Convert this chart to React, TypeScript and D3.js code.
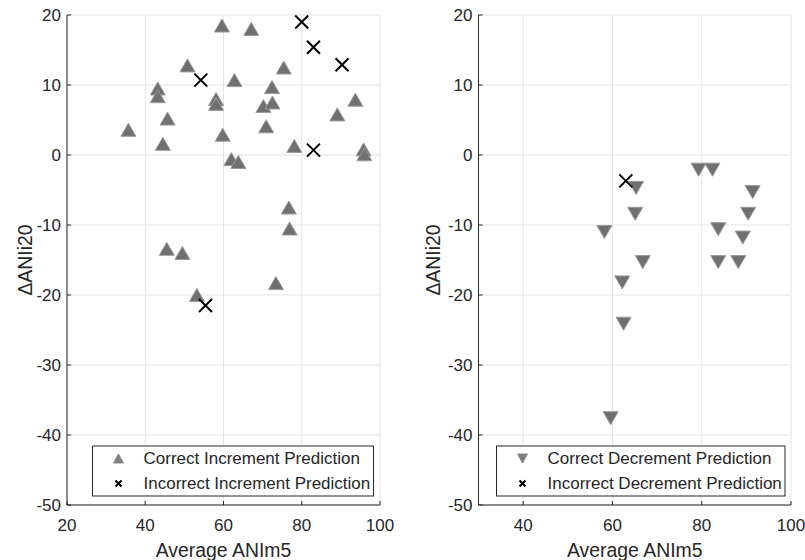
import React from "react";
import * as d3 from "d3";

// Left panel data
const incCorrectX = [35.7, 43.2, 43.2, 45.7, 44.5, 50.8, 58.1, 58.1, 59.6, 59.8, 62.8, 62.0, 63.8, 67.1, 70.2, 72.4, 72.5, 70.9, 75.4, 78.1, 89.1, 93.7, 95.8, 96.0, 76.7, 76.9, 45.5, 49.5, 53.2, 73.4];
const incCorrectY = [3.6, 9.5, 8.4, 5.2, 1.6, 12.8, 8.0, 7.3, 18.5, 2.9, 10.7, -0.6, -1.0, 18.0, 7.0, 9.7, 7.5, 4.1, 12.5, 1.3, 5.8, 7.9, 0.8, 0.1, -7.5, -10.5, -13.4, -14.0, -20.0, -18.3];
const incWrongX = [54.2, 80.0, 83.0, 90.3, 83.0, 55.4];
const incWrongY = [10.7, 19.0, 15.4, 12.9, 0.7, -21.5];

// Right panel data
const decCorrectX = [79.3, 82.4, 65.3, 65.1, 58.2, 66.8, 62.2, 62.5, 91.4, 90.4, 83.7, 89.2, 83.7, 88.2, 59.6];
const decCorrectY = [-2.1, -2.1, -4.7, -8.4, -11.0, -15.3, -18.2, -24.1, -5.3, -8.4, -10.6, -11.8, -15.3, -15.3, -37.6];
const decWrongX = [63.0];
const decWrongY = [-3.7];

const yTicks = [20, 10, 0, -10, -20, -30, -40, -50];
const xTicksLeft = [20, 40, 60, 80, 100];
const xTicksRight = [40, 60, 80, 100];

const FONT = "'Liberation Sans', Arial, Helvetica, sans-serif";
const TXT = "#262626";

function triUp(cx: number, cy: number, w: number, h: number) {
  return `M${cx},${cy - h / 2}L${cx + w / 2},${cy + h / 2}L${cx - w / 2},${cy + h / 2}Z`;
}
function triDown(cx: number, cy: number, w: number, h: number) {
  return `M${cx},${cy + h / 2}L${cx + w / 2},${cy - h / 2}L${cx - w / 2},${cy - h / 2}Z`;
}
function cross(cx: number, cy: number, r: number) {
  return `M${cx - r},${cy - r}L${cx + r},${cy + r}M${cx - r},${cy + r}L${cx + r},${cy - r}`;
}

type PanelProps = {
  left: number;
  right: number;
  xDomain: [number, number];
  xTicks: number[];
  cx: number[];
  cy: number[];
  wx: number[];
  wy: number[];
  up: boolean;
  legend: [string, string];
  legendBox: [number, number];
  ylabelX: number;
};

function Panel(p: PanelProps) {
  const top = 15;
  const bottom = 505;
  const x = d3.scaleLinear().domain(p.xDomain).range([p.left, p.right]);
  const y = d3.scaleLinear().domain([-50, 20]).range([bottom, top]);
  const tri = p.up ? triUp : triDown;
  const lx0 = p.legendBox[0];
  const lx1 = p.legendBox[1];
  const ly0 = 446;
  const ly1 = 496;
  const markerX = lx0 + 26;
  const textX = lx0 + 51;
  return (
    <g>
      {/* grid */}
      {p.xTicks.map((t) => (
        <line key={"gx" + t} x1={x(t)} x2={x(t)} y1={top} y2={bottom} stroke="#e3e3e3" strokeWidth={1} />
      ))}
      {yTicks.map((t) => (
        <line key={"gy" + t} x1={p.left} x2={p.right} y1={y(t)} y2={y(t)} stroke="#e3e3e3" strokeWidth={1} />
      ))}
      {/* axes */}
      <line x1={p.left} x2={p.left} y1={top} y2={bottom} stroke={TXT} strokeWidth={1} />
      <line x1={p.left} x2={p.right} y1={bottom} y2={bottom} stroke={TXT} strokeWidth={1} />
      {yTicks.map((t) => (
        <line key={"ty" + t} x1={p.left} x2={p.left + 4} y1={y(t)} y2={y(t)} stroke={TXT} strokeWidth={1} />
      ))}
      {p.xTicks.map((t) => (
        <line key={"tx" + t} x1={x(t)} x2={x(t)} y1={bottom} y2={bottom - 4} stroke={TXT} strokeWidth={1} />
      ))}
      {yTicks.map((t) => (
        <text key={"ly" + t} x={p.left - 6} y={y(t)} dy="0.35em" textAnchor="end" fontSize={17} fontFamily={FONT} fill={TXT}>
          {t}
        </text>
      ))}
      {p.xTicks.map((t) => (
        <text key={"lx" + t} x={x(t)} y={bottom + 20} dy="0.35em" textAnchor="middle" fontSize={17} fontFamily={FONT} fill={TXT}>
          {t}
        </text>
      ))}
      <text x={(p.left + p.right) / 2} y={550} dy="0.35em" textAnchor="middle" fontSize={19.4} fontFamily={FONT} fill={TXT}>
        Average ANIm5
      </text>
      <text
        transform={`translate(${p.ylabelX},${(top + bottom) / 2}) rotate(-90)`}
        dy="0.35em"
        textAnchor="middle"
        fontSize={19.4}
        fontFamily={FONT}
        fill={TXT}
      >
        ΔANIi20
      </text>
      {/* markers */}
      {p.cx.map((v, i) => (
        <path key={"c" + i} d={tri(x(v), y(p.cy[i]), 15, 13)} fill="#707070" stroke="#999999" strokeWidth={1} />
      ))}
      {p.wx.map((v, i) => (
        <path key={"w" + i} d={cross(x(v), y(p.wy[i]), 6.5)} stroke="#000" strokeWidth={2} fill="none" />
      ))}
      {/* legend */}
      <rect x={lx0} y={ly0} width={lx1 - lx0} height={ly1 - ly0} fill="#fff" stroke={TXT} strokeWidth={1} />
      <path d={tri(markerX, 458.5, 10, 9)} fill="#808080" stroke="#8a8a8a" strokeWidth={1} />
      <path d={cross(markerX, 483.5, 3)} stroke="#000" strokeWidth={2} fill="none" />
      <text x={textX} y={458.5} dy="0.35em" fontSize={17} fontFamily={FONT} fill={TXT}>
        {p.legend[0]}
      </text>
      <text x={textX} y={483.5} dy="0.35em" fontSize={17} fontFamily={FONT} fill={TXT}>
        {p.legend[1]}
      </text>
    </g>
  );
}

export default function App() {
  return (
    <svg width={805} height={560} style={{ position: "absolute", left: 0, top: 0, background: "#fff" }}>
      <rect width={805} height={560} fill="#fff" />
      <Panel
        left={67}
        right={380}
        xDomain={[20, 100]}
        xTicks={xTicksLeft}
        cx={incCorrectX}
        cy={incCorrectY}
        wx={incWrongX}
        wy={incWrongY}
        up={true}
        legend={["Correct Increment Prediction", "Incorrect Increment Prediction"]}
        legendBox={[92.5, 373.5]}
        ylabelX={25}
      />
      <Panel
        left={478.5}
        right={791}
        xDomain={[30, 100]}
        xTicks={xTicksRight}
        cx={decCorrectX}
        cy={decCorrectY}
        wx={decWrongX}
        wy={decWrongY}
        up={false}
        legend={["Correct Decrement Prediction", "Incorrect Decrement Prediction"]}
        legendBox={[496.5, 785]}
        ylabelX={433}
      />
    </svg>
  );
}
